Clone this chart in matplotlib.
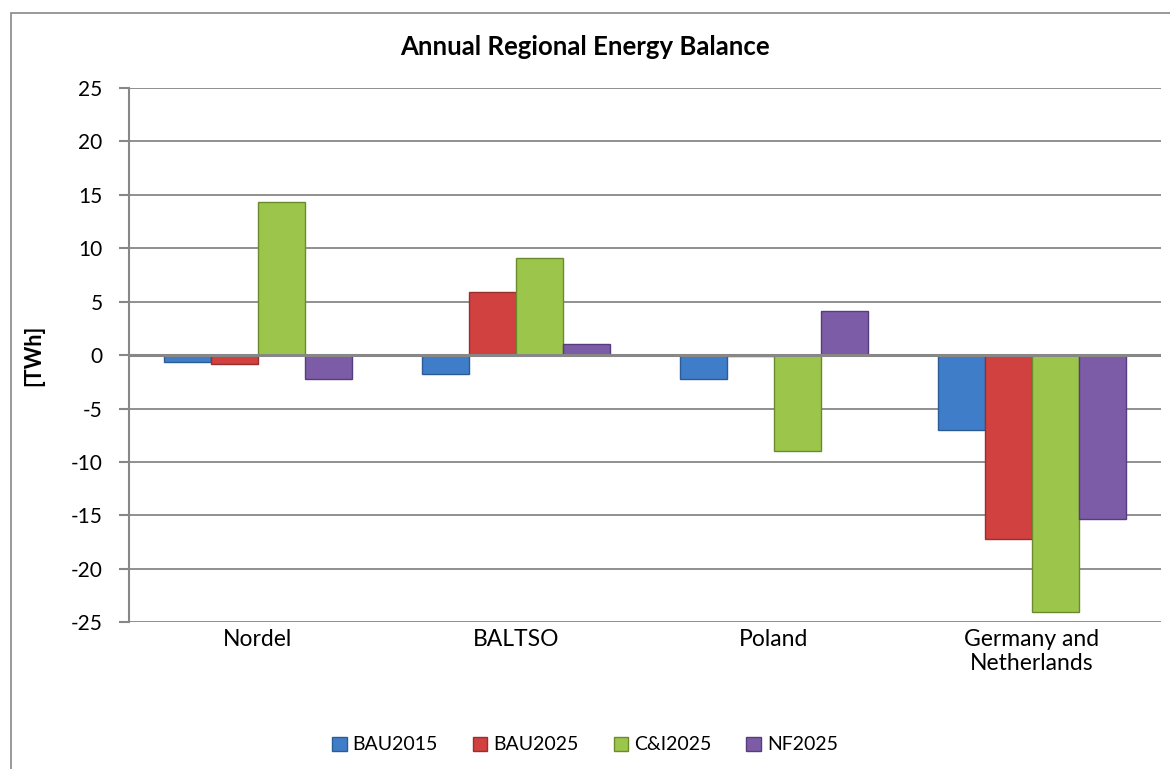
import numpy as np
import matplotlib
matplotlib.use("Agg")
import matplotlib.pyplot as plt
from matplotlib.patches import Rectangle, Patch

plt.rcParams["font.family"] = ["Lato", "DejaVu Sans"]

# Data (TWh)
regions = ["Nordel", "BALTSO", "Poland", "Germany and\nNetherlands"]
scenarios = ["BAU2015", "BAU2025", "C&I2025", "NF2025"]
bau2015 = [-0.6, -1.8, -2.2, -7.0]
bau2025 = [-0.8, 5.9, -0.1, -17.2]
ci2025 = [14.3, 9.1, -9.0, -24.0]
nf2025 = [-2.2, 1.0, 4.1, -15.3]
yticks = list(range(-25, 30, 5))

series = [bau2015, bau2025, ci2025, nf2025]
face_colors = ["#3f7dc8", "#d0413f", "#9cc64b", "#7c5ca6"]
edge_colors = ["#2c5c96", "#98302e", "#6a8a2c", "#563d7e"]
GRID = "#878787"

fig = plt.figure(figsize=(11.7, 7.69), dpi=100)
ax = fig.add_axes([129 / 1170, 1 - 622.3 / 769, (1160.7 - 129) / 1170, (622.3 - 88) / 769])

# outer chart-area frame (runs off the right and bottom of the image)
fig.patches.append(Rectangle((10.5 / 1170, -0.1), 1.2, 1.1 - 13 / 769,
                             transform=fig.transFigure, fill=False,
                             edgecolor=GRID, lw=1.2, clip_on=False))

x = np.arange(len(regions))
width = 1 / 5.5  # Excel gap width 150%
for j, (vals, fc, ec) in enumerate(zip(series, face_colors, edge_colors)):
    ax.bar(x + (j - 1.5) * width, vals, width, color=fc, edgecolor=ec,
           linewidth=1.0, zorder=3, label=scenarios[j])

ax.set_xlim(-0.5, len(regions) - 0.5)
ax.set_ylim(-25, 25)
ax.set_yticks(yticks)
ax.set_yticklabels([str(t) for t in yticks], fontsize=15)
ax.set_xticks(x)
ax.set_xticklabels(regions, fontsize=16.5, linespacing=1.15, va="top")
ax.tick_params(axis="x", length=0, pad=5)
ax.tick_params(axis="y", length=7, width=1.5, color=GRID, pad=12)

for t in yticks:
    if t != 0:
        ax.axhline(t, color=GRID, lw=1.3, zorder=1)
ax.axhline(0, color=GRID, lw=2.2, zorder=4)

for side in ["top", "right", "bottom"]:
    ax.spines[side].set_visible(False)
ax.spines["left"].set_color(GRID)
ax.spines["left"].set_linewidth(1.5)

ax.set_ylabel("[TWh]", fontsize=15.5, fontweight="bold")
ax.yaxis.set_label_coords(-(129 - 44) / (1160.7 - 129), 0.5)

fig.text(0.5, 1 - 47 / 769, "Annual Regional Energy Balance", ha="center",
         va="center", fontsize=18.5, fontweight="bold")

handles = [Patch(facecolor=fc, edgecolor=ec) for fc, ec in zip(face_colors, edge_colors)]
fig.legend(handles, scenarios, loc="center", bbox_to_anchor=(0.5, 1 - 745 / 769),
           ncol=4, frameon=False, fontsize=14, handlelength=0.75, handleheight=0.75,
           handletextpad=0.3, columnspacing=1.8)

fig.savefig("out.png", dpi=100)
